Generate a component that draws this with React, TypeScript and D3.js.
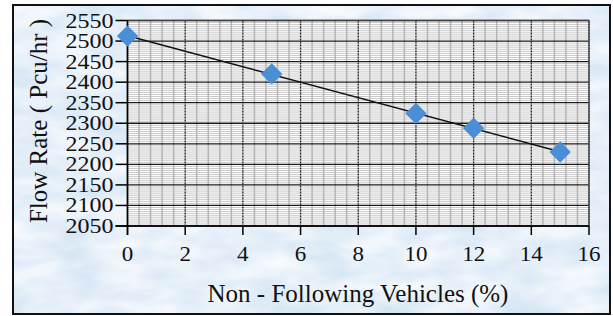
import React from 'react'
import * as d3 from 'd3'

// values
const nonFollowing = [0, 5, 10, 12, 15]
const flowRate = [2512, 2420, 2324, 2288, 2230]
const xTicks = [0, 2, 4, 6, 8, 10, 12, 14, 16]
const yTicks = [2050, 2100, 2150, 2200, 2250, 2300, 2350, 2400, 2450, 2500, 2550]

const W = 613
const H = 316
const plot = { left: 127.5, right: 589, top: 20.5, bottom: 226 }
const serif = '"Liberation Serif", "Times New Roman", serif'

// least squares trend line, like the spreadsheet's linear trendline
const fitLine = (xs: number[], ys: number[]) => {
    const mx = d3.mean(xs) as number
    const my = d3.mean(ys) as number
    let sxy = 0
    let sxx = 0
    xs.forEach((x, i) => {
        sxy += (x - mx) * (ys[i] - my)
        sxx += (x - mx) * (x - mx)
    })
    const slope = sxy / sxx
    return (x: number) => my + slope * (x - mx)
}

const App = () => {
    const x = d3.scaleLinear().domain([0, 16]).range([plot.left, plot.right])
    const y = d3.scaleLinear().domain([2050, 2550]).range([plot.bottom, plot.top])

    const minorX = d3.range(0, 16.001, 0.4).filter(v => Math.abs(v / 2 - Math.round(v / 2)) > 0.01)
    const minorY = d3.range(2050, 2550.001, 5).filter(v => v % 50 !== 0)

    const trend = fitLine(nonFollowing, flowRate)
    const x0 = d3.min(nonFollowing) as number
    const x1 = d3.max(nonFollowing) as number
    const diamond = d3.symbol().type(d3.symbolDiamond2).size(290)()

    return (
        <svg width={W} height={H} style={{ position: 'absolute', left: 0, top: 0 }}>
            <defs>
                <filter id="water" x="0" y="0" width="100%" height="100%">
                    <feTurbulence type="fractalNoise" baseFrequency="0.02 0.05" numOctaves={3} seed={4} />
                    <feColorMatrix type="matrix" values="0 0 0 0 1  0 0 0 0 1  0 0 0 0 1  0 0 0 -1.6 1.3" />
                </filter>
            </defs>
            <rect x={0} y={0} width={W} height={H} fill="#ffffff" />
            <rect x={13} y={5} width={597} height={309} fill="#d6e6f5" />
            <rect x={13} y={5} width={597} height={309} filter="url(#water)" opacity={0.8} />
            <rect x={13} y={5} width={597} height={309} fill="none" stroke="#111" strokeWidth={2} />

            {/* plot area */}
            <rect x={plot.left} y={plot.top} width={plot.right - plot.left} height={plot.bottom - plot.top} fill="#fff" />
            {minorY.map(v => (
                <line key={`my${v}`} x1={plot.left} x2={plot.right} y1={y(v)} y2={y(v)} stroke="#c9c9c9" strokeWidth={1} />
            ))}
            {minorX.map(v => (
                <line key={`mx${v}`} x1={x(v)} x2={x(v)} y1={plot.top} y2={plot.bottom} stroke="#b5b5b5" strokeWidth={1.5} />
            ))}
            {yTicks.map(v => (
                <line key={`gy${v}`} x1={plot.left} x2={plot.right} y1={y(v)} y2={y(v)} stroke="#1a1a1a" strokeWidth={1.3} />
            ))}
            {xTicks.map(v => (
                <line key={`gx${v}`} x1={x(v)} x2={x(v)} y1={plot.top} y2={plot.bottom} stroke="#222" strokeWidth={1.3} strokeDasharray="2,1" />
            ))}
            <rect x={plot.left} y={plot.top} width={plot.right - plot.left} height={plot.bottom - plot.top} fill="none" stroke="#444" strokeWidth={1.3} />

            {/* axes */}
            <line x1={plot.left} x2={plot.left} y1={plot.top} y2={plot.bottom + 9} stroke="#000" strokeWidth={1.5} />
            <line x1={plot.left - 12} x2={plot.right} y1={plot.bottom} y2={plot.bottom} stroke="#000" strokeWidth={1.5} />
            {yTicks.map(v => (
                <g key={`ty${v}`}>
                    <line x1={plot.left - 12} x2={plot.left} y1={y(v)} y2={y(v)} stroke="#000" strokeWidth={1.5} />
                    <text transform={`translate(${plot.left - 14},${y(v) + 7}) scale(1.2,1)`} textAnchor="end" fontFamily={serif} fontSize={20} fill="#111">{v}</text>
                </g>
            ))}
            {xTicks.map(v => (
                <g key={`tx${v}`}>
                    <line x1={x(v)} x2={x(v)} y1={plot.bottom} y2={plot.bottom + 9} stroke="#000" strokeWidth={1.5} />
                    <text transform={`translate(${x(v)},261) scale(1.15,1)`} textAnchor="middle" fontFamily={serif} fontSize={20} fill="#111">{v}</text>
                </g>
            ))}

            {/* trend line and points */}
            <line x1={x(x0)} y1={y(trend(x0))} x2={x(x1)} y2={y(trend(x1))} stroke="#111" strokeWidth={1.5} />
            {nonFollowing.map((v, i) => (
                <path key={`pt${v}`} d={diamond as string} transform={`translate(${x(v)},${y(flowRate[i])})`} fill="#4a8fd6" />
            ))}

            <text x={358} y={302} textAnchor="middle" fontFamily={serif} fontSize={25} fill="#111">Non - Following Vehicles (%)</text>
            <text transform="translate(47,121) rotate(-90)" textAnchor="middle" fontFamily={serif} fontSize={25} fill="#111">Flow Rate ( Pcu/hr )</text>
        </svg>
    )
}

export default App
